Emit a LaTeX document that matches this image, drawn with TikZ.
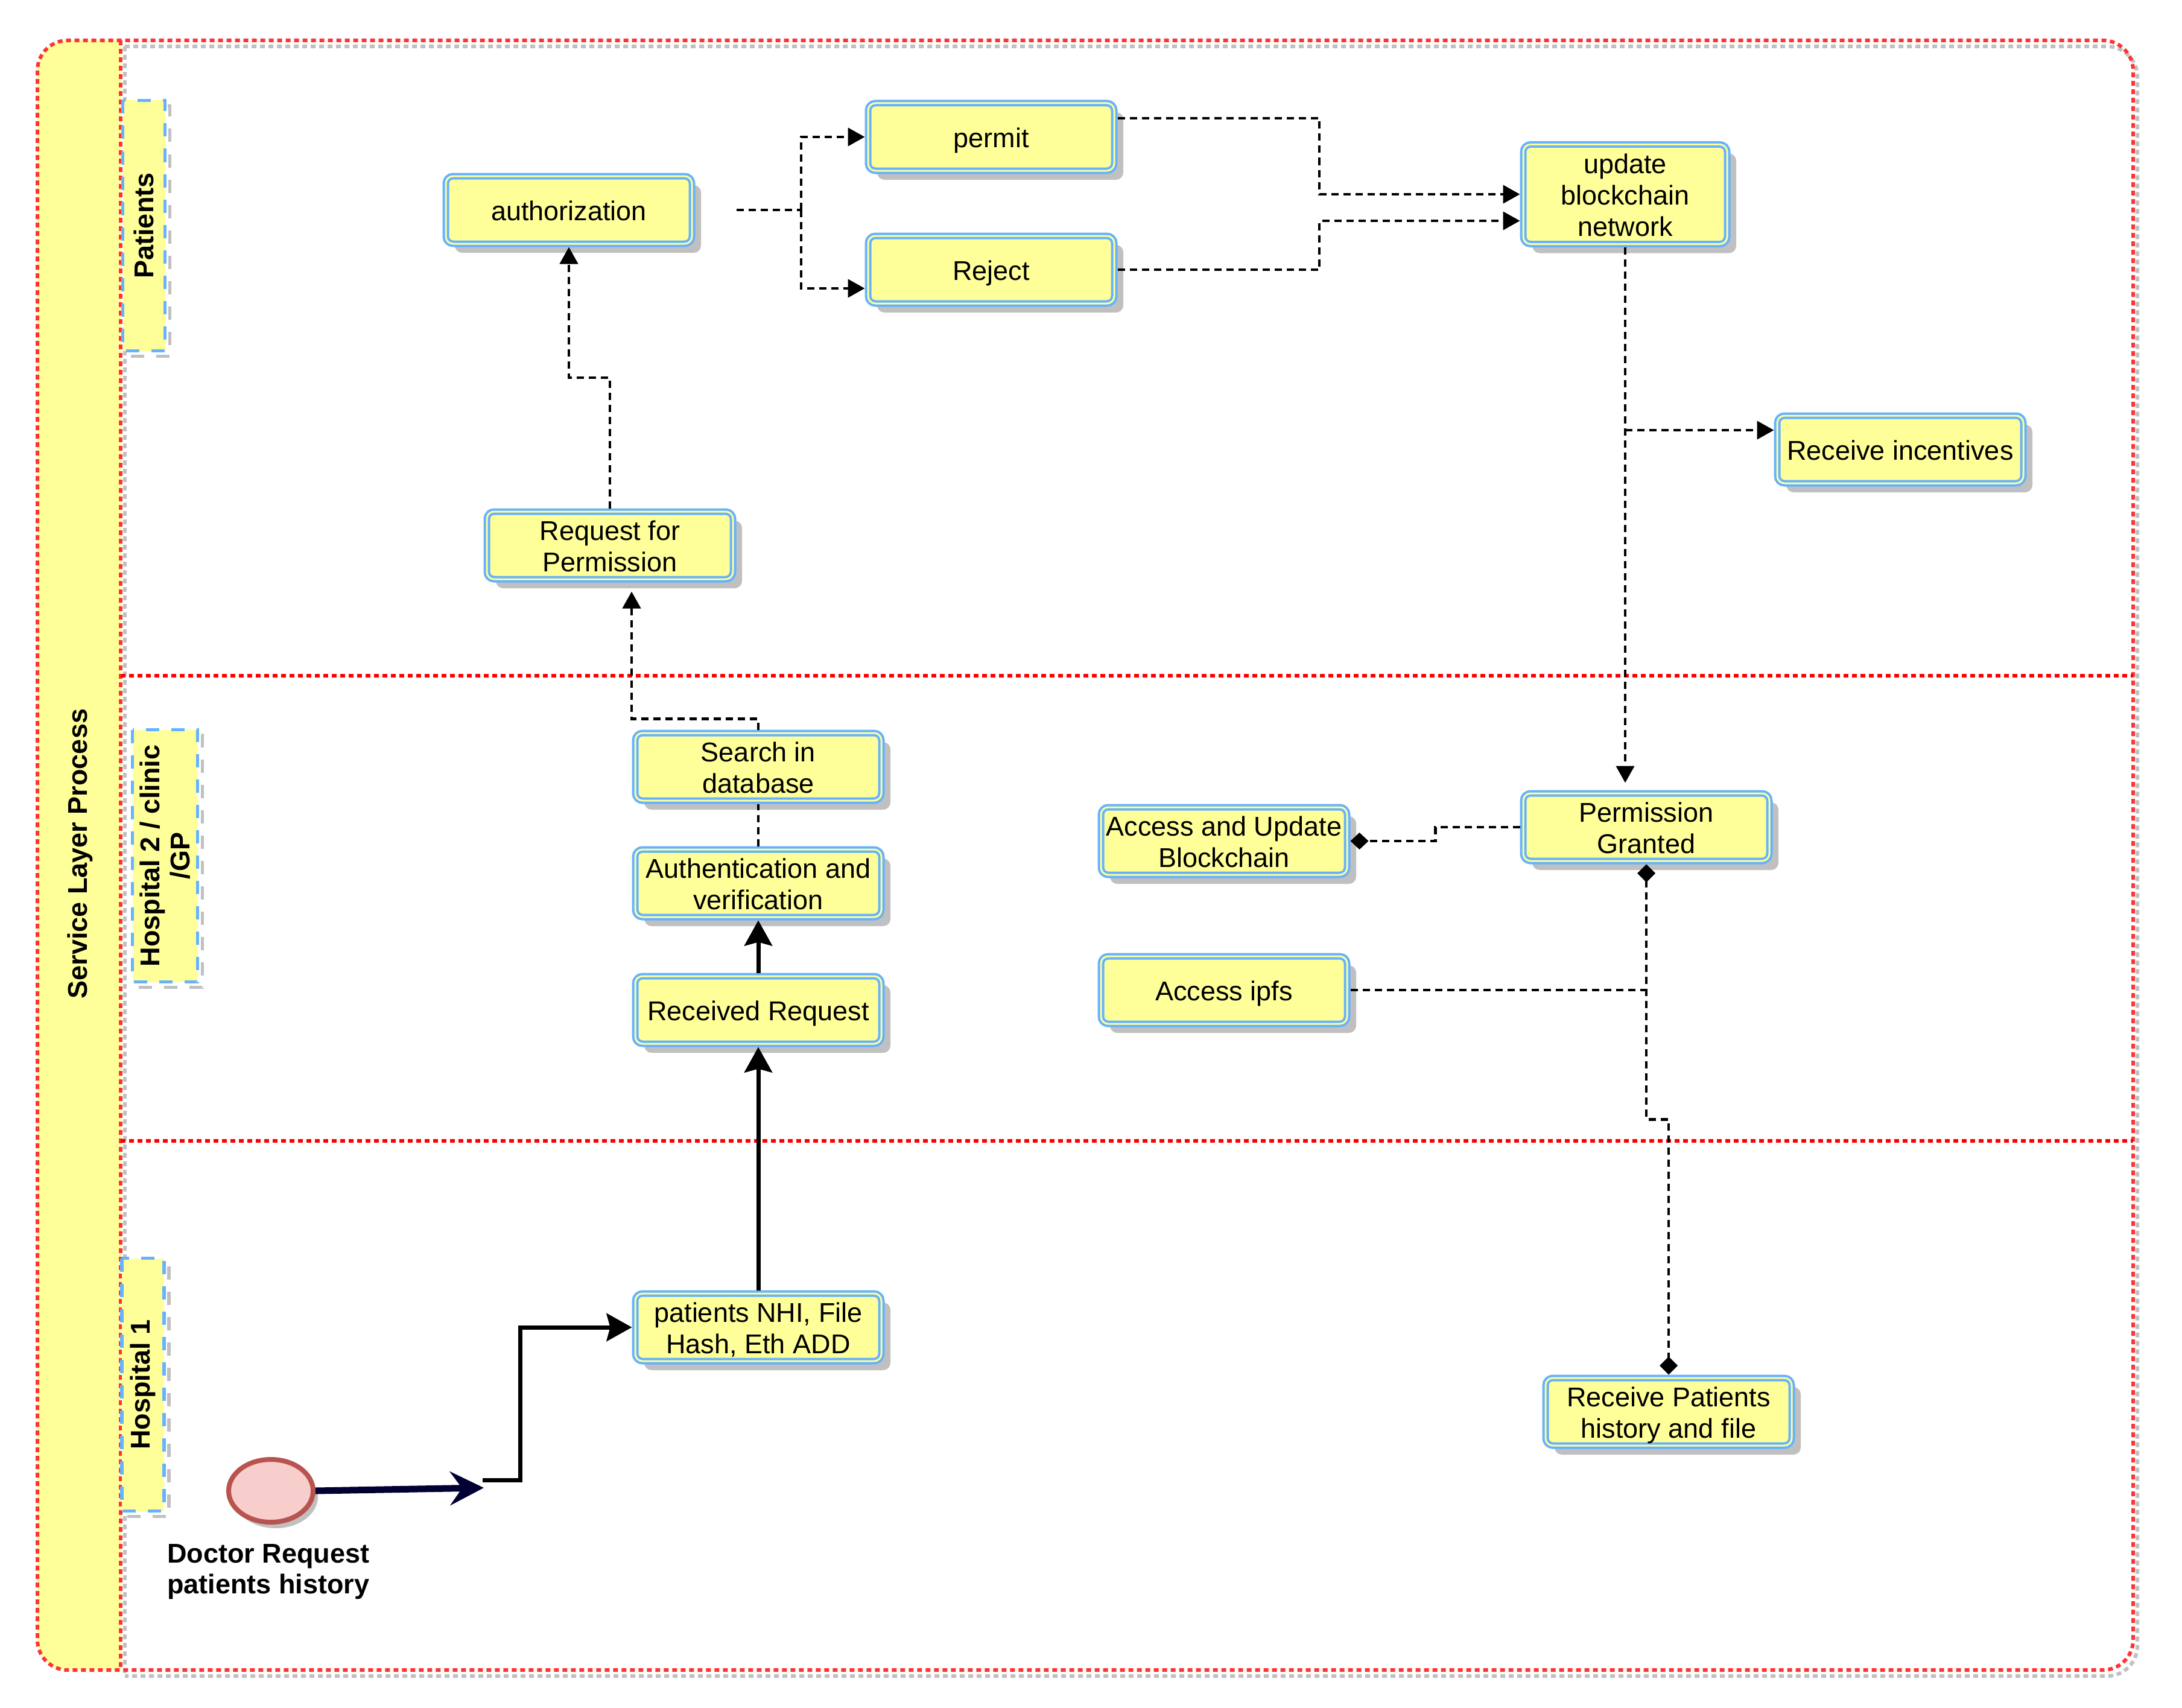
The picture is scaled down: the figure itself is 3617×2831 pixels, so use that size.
\documentclass[tikz,border=0pt]{standalone}
\usepackage{fontspec}
\setmainfont{Liberation Sans}
\usetikzlibrary{arrows.meta,shapes.geometric,calc}
\definecolor{boxyellow}{HTML}{FFFF99}
\definecolor{boxblue}{HTML}{66B2FF}
\definecolor{framered}{HTML}{FF3333}
\definecolor{lanered}{HTML}{FF0000}
\definecolor{shadowgray}{HTML}{C0C0C0}
\definecolor{startfill}{HTML}{F8CECC}
\definecolor{startline}{HTML}{B85450}
\definecolor{navyline}{HTML}{000033}
\newcommand{\mytopstrut}{\rule{0pt}{44pt}}
\newcommand{\mybotstrut}{\rule[-9pt]{0pt}{9pt}}
\begin{document}
\begin{tikzpicture}[x=1pt,y=-1pt,
  task/.style={rectangle, rounded corners=12pt, draw=boxblue, double=boxyellow,
    double distance=3pt, line width=4pt, fill=boxyellow,
    minimum width=408pt, minimum height=112pt, inner sep=0pt, outer sep=5.5pt,
    align=center, font=\fontsize{45}{52}\selectfont,
    preaction={fill=shadowgray, draw=none, transform canvas={shift={(15pt,-15pt)}}}},
  lanelabel/.style={rectangle, draw=boxblue, fill=boxyellow, line width=5.5pt,
    dash pattern=on 22pt off 20pt, rotate=90, inner sep=0pt, align=center,
    font=\bfseries\fontsize{45}{50}\selectfont,
    preaction={draw=shadowgray, transform canvas={shift={(8pt,-9pt)}}}},
  conn/.style={line width=4.5pt, dash pattern=on 12pt off 8pt},
  connarrow/.style={conn, -{Triangle[length=28pt,width=30pt]}},
  thickarrow/.style={line width=7pt, -{Stealth[length=42pt,width=46pt,inset=6pt]}},
  reddot/.style={line width=6pt, dash pattern=on 8pt off 6pt}
]
\useasboundingbox (0,0) rectangle (3617,2831);
\fill[white] (0,0) rectangle (3617,2831);

% pool header fill
\begin{scope}
  \clip (62,67) rectangle (200,2768);
  \fill[boxyellow, rounded corners=50pt] (62,67) rectangle (3536,2768);
\end{scope}

% frame shadow
\draw[shadowgray, reddot, rounded corners=50pt] (207,77) -- (3543,77) -- (3543,2778) -- (207,2778);
\draw[shadowgray, reddot] (207,77) -- (207,2778);

% frame
\draw[framered, reddot, rounded corners=50pt] (62,67) rectangle (3536,2768);
\draw[framered, reddot] (200,67) -- (200,2768);
\draw[lanered, reddot] (200,1120) -- (3536,1120);
\draw[lanered, reddot] (200,1891) -- (3536,1891);

% titles
\node[rotate=90, font=\bfseries\fontsize{45}{50}\selectfont] (pooltitle) at (133,1415) {Service Layer Process};
\node[lanelabel, minimum width=415pt, minimum height=70pt] (lanepat) at (238.5,374) {Patients};
\node[lanelabel, minimum width=418pt, minimum height=108pt] (lanehosp2) at (273.5,1418.5) {Hospital 2 / clinic\\/GP};
\node[lanelabel, minimum width=419pt, minimum height=70pt] (lanehosp1) at (237,2295) {Hospital 1};

% tasks
\node[task] (auth) at (943,348) {\mytopstrut authorization\mybotstrut};
\node[task] (permit) at (1643,227) {\mytopstrut permit\mybotstrut};
\node[task] (reject) at (1643,447) {\mytopstrut Reject\mybotstrut};
\node[task, minimum width=338pt, minimum height=165pt] (update) at (2694,322) {\mytopstrut update\\blockchain\\network\mybotstrut};
\node[task] (incent) at (3150,745) {\mytopstrut Receive incentives\mybotstrut};
\node[task] (reqperm) at (1011,904) {\mytopstrut Request for\\Permission\mybotstrut};
\node[task] (search) at (1257,1271) {\mytopstrut Search in\\database\mybotstrut};
\node[task] (authver) at (1257,1464) {\mytopstrut Authentication and\\verification\mybotstrut};
\node[task] (recv) at (1257,1674) {\mytopstrut Received Request\mybotstrut};
\node[task] (accupd) at (2029,1394) {\mytopstrut Access and Update\\Blockchain\mybotstrut};
\node[task] (granted) at (2729,1371) {\mytopstrut Permission\\Granted\mybotstrut};
\node[task] (ipfs) at (2029,1641) {\mytopstrut Access ipfs\mybotstrut};
\node[task] (nhi) at (1257,2200) {\mytopstrut patients NHI, File\\Hash, Eth ADD\mybotstrut};
\node[task] (recvpat) at (2766,2340) {\mytopstrut Receive Patients\\history and file\mybotstrut};

% start event
\node[ellipse, draw=startline, fill=startfill, line width=8pt, minimum width=140pt,
  minimum height=104pt, inner sep=0pt,
  preaction={fill=shadowgray, draw=none, transform canvas={shift={(8pt,-10pt)}}}] (start) at (449,2471) {};
\node[font=\bfseries\fontsize{45}{51}\selectfont, align=center] (startlbl) at (445,2605) {Doctor Request\\patients history};

% connectors
\coordinate (m1) at (802,2466);
\coordinate (m2) at (800,2453);
\draw[navyline, line width=11pt, -{Stealth[length=56pt,width=56pt,inset=20pt]}] (start.east) -- (m1);
\draw[thickarrow] (m2) -- ++(62,0) |- (nhi.west);
\draw[thickarrow] (nhi.north) -- (recv.south);
\draw[thickarrow] (recv.north) -- (authver.south);
\draw[conn] (authver.north) -- (search.south);
\draw[connarrow, shorten >=15pt] (search.north) -- ++(0,-18) -| ([xshift=36pt]reqperm.south);
\draw[connarrow] (reqperm.north) -- ++(0,-216.5) -| (auth.south);

\coordinate (j1) at (1328,348);
\draw[conn] ([xshift=68pt]auth.east) -- (j1);
\draw[connarrow] (j1) |- (permit.west);
\draw[connarrow] (j1) |- ([yshift=-31pt]reject.west);

\draw[connarrow] ([yshift=31pt]permit.east) -- ++(334.5,0) |- (update.west);
\draw[connarrow] (reject.east) -- ++(334.5,0) |- ([yshift=-44pt]update.west);

\draw[connarrow, shorten >=12pt] (update.south) -- (update.south |- granted.north);
\coordinate (b1) at (2694,713);
\draw[connarrow] (b1) -- (b1 -| incent.west);

\draw[conn, -{Diamond[length=30pt,width=28pt]}] (granted.west) -- ++(-140,0) |- (accupd.east);
\draw[conn, {Diamond[length=30pt,width=30pt]}-{Diamond[length=30pt,width=30pt]}] (granted.south) -- ++(0,423) -| (recvpat.north);
\draw[conn] (ipfs.east) -- (ipfs.east -| granted.south);
\end{tikzpicture}
\end{document}
